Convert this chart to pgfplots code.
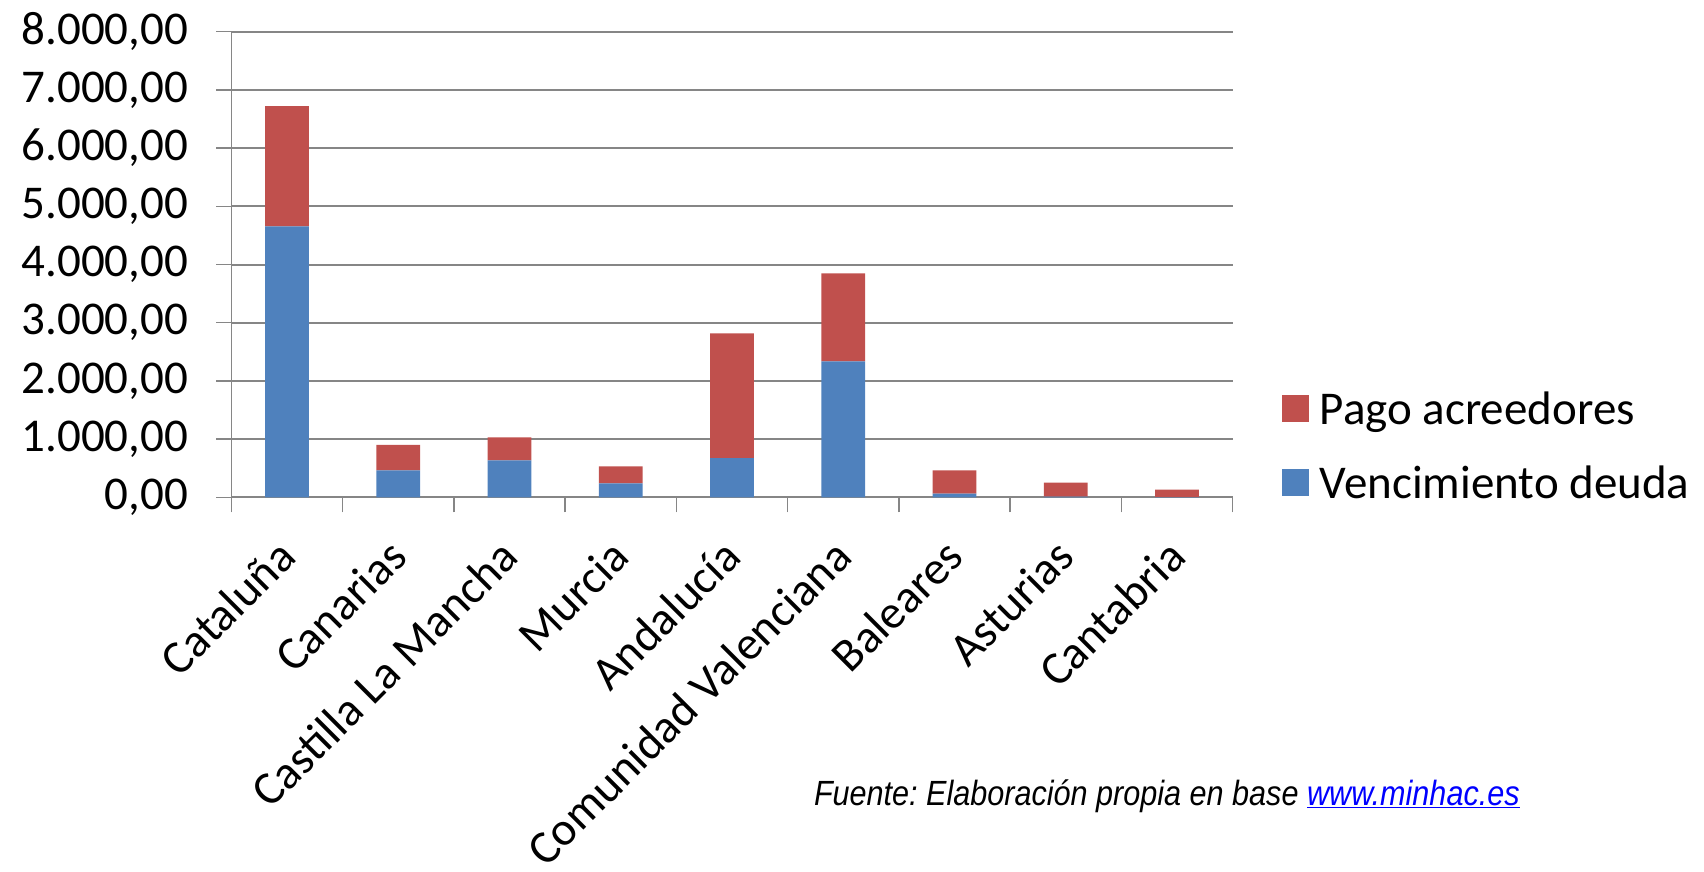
\documentclass[border=0pt]{standalone}
\usepackage{graphicx}
\usepackage{pgfplots}
\pgfplotsset{compat=1.18}
\usepackage{pgfplotstable}
\usepackage{fontspec}
\setmainfont{Carlito}
\newfontfamily\srcfont{Liberation Sans}

\definecolor{barred}{HTML}{C0504D}
\definecolor{barblue}{HTML}{4F81BD}
\definecolor{gridgray}{HTML}{868686}
\definecolor{linkblue}{HTML}{0000FF}

\newcommand\bigfont{\fontsize{47pt}{56pt}\selectfont}

% millones de euros por comunidad
\pgfplotstableread{
idx venc pago
0 4656 2067
1 464 435
2 636 395
3 241 292
4 675 2143
5 2337 1512
6 62 402
7 10 241
8 5 126
}\datatable

\begin{document}
\frenchspacing
\begin{tikzpicture}
  \begin{axis}[
      at={(231.3pt,-497.3pt)}, anchor=south west,
      scale only axis,
      width=1001.4pt, height=465.6pt,
      ybar stacked, bar width=43.8pt,
      xmin=-0.5, xmax=8.5,
      ymin=0, ymax=8000,
      axis x line*=bottom, axis y line*=left,
      axis line style={draw=gridgray, line width=1.5pt, -},
      ymajorgrids=true,
      grid style={draw=gridgray, line width=2pt},
      tick align=outside,
      major tick length=15pt,
      tick style={draw=gridgray, line width=1.5pt},
      ytick={0,1000,...,8000},
      scaled y ticks=false,
      yticklabel style={font=\bigfont, anchor=east, inner sep=0pt, xshift=-28pt,
        /pgf/number format/fixed,
        /pgf/number format/fixed zerofill,
        /pgf/number format/precision=2,
        /pgf/number format/use comma,
        /pgf/number format/1000 sep={.},
        /pgf/number format/assume math mode=true},
      xtick={-0.5,0.5,...,8.5},
      xticklabels={},
      extra x ticks={0,1,2,3,4,5,6,7,8},
      extra x tick labels={Cataluña,Canarias,Castilla La Mancha,Murcia,Andalucía,Comunidad Valenciana,Baleares,Asturias,Cantabria},
      extra x tick style={major tick length=0pt},
      xticklabel style={font=\bigfont, yshift=-51pt, rotate=45, anchor=east, inner sep=0pt},
      reverse legend,
      legend cell align=left,
      legend image code/.code={\fill[#1] (0pt,-13.35pt) rectangle (26.7pt,13.35pt);},
      legend style={draw=none, fill=none, font=\bigfont,
        at={(1.0462,0.232)}, anchor=north west,
        nodes={inner sep=0pt}, row sep=40pt, column sep=11pt},
    ]
    \addplot[fill=barblue, draw=none] table[x=idx, y=venc] {\datatable};
    \addlegendentry{Vencimiento deuda}
    \addplot[fill=barred, draw=none] table[x=idx, y=pago] {\datatable};
    \addlegendentry{Pago acreedores}
  \end{axis}
  \node[anchor=base west, inner sep=0pt] at (813.8pt,-805pt)
    {\resizebox{705.6pt}{\height}{\srcfont\itshape\fontsize{35pt}{42pt}\selectfont Fuente: Elaboración propia en base \textcolor{linkblue}{\underline{www.minhac.es}}}};
  \pgfresetboundingbox
  \useasboundingbox (0pt,0pt) rectangle (1704pt,-871pt);
\end{tikzpicture}
\end{document}
